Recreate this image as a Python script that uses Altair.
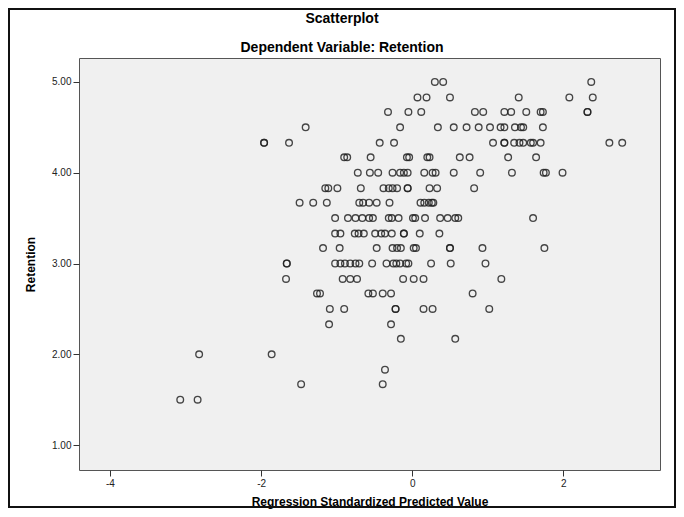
import altair as alt
import pandas as pd

# Retention levels (y) and the predicted values (x) read per row
r500 = [0.30, 0.41, 2.37]
r483 = [0.07, 0.19, 0.50, 1.41, 2.08, 2.39]
r467 = [-0.32, -0.05, 0.12, 0.83, 0.94, 1.22, 1.31, 1.51, 1.70, 1.73, 2.32, 2.32]
r450 = [-1.41, -0.16, 0.34, 0.55, 0.72, 0.88, 1.03, 1.17, 1.22, 1.36, 1.44, 1.47, 1.73]
r433 = [-1.96, -1.96, -1.63, -0.43, -0.24, 1.07, 1.22, 1.22, 1.35, 1.42, 1.47, 1.57, 1.60, 1.70, 2.61, 2.78]
r417 = [-0.90, -0.86, -0.55, -0.07, -0.04, 0.20, 0.23, 0.63, 0.76, 1.27, 1.64]
r400 = [-0.72, -0.56, -0.45, -0.26, -0.16, -0.11, -0.06, 0.16, 0.27, 0.31, 0.55, 0.90, 1.32, 1.74, 1.77, 1.99]
r383 = [-1.15, -1.11, -0.99, -0.68, -0.38, -0.31, -0.26, -0.20, -0.06, -0.06, 0.23, 0.33, 0.82]
r367 = [-1.49, -1.31, -1.13, -0.70, -0.65, -0.57, -0.47, -0.30, 0.11, 0.16, 0.22, 0.26, 0.28]
r350 = [-1.02, -0.85, -0.75, -0.66, -0.57, -0.52, -0.31, -0.27, -0.18, 0.01, 0.04, 0.17, 0.37, 0.47, 0.57, 0.61, 1.60]
r333 = [-1.02, -0.95, -0.76, -0.71, -0.64, -0.49, -0.41, -0.36, -0.27, -0.11, -0.11, 0.10, 0.36]
r317 = [-1.18, -0.96, -0.47, -0.26, -0.20, -0.15, 0.02, 0.05, 0.50, 0.50, 0.93, 1.75]
r300 = [-1.66, -1.66, -1.02, -0.95, -0.89, -0.82, -0.75, -0.70, -0.53, -0.34, -0.25, -0.21, -0.16, -0.08, -0.05, 0.25, 0.51, 0.97]
r283 = [-1.67, -0.92, -0.82, -0.73, -0.12, 0.02, 0.15, 1.18]
r267 = [-1.26, -1.22, -0.58, -0.52, -0.39, -0.28, 0.80]
r250 = [-1.09, -0.90, -0.22, -0.22, 0.15, 0.27, 1.02]
r233 = [-1.10, -0.28]
r217 = [-0.15, 0.57]
r200 = [-2.82, -1.86]
r183 = [-0.36]
r167 = [-1.47, -0.39]
r150 = [-3.07, -2.84]

levels = [5.00, 4.83, 4.67, 4.50, 4.33, 4.17, 4.00, 3.83, 3.67, 3.50, 3.33,
          3.17, 3.00, 2.83, 2.67, 2.50, 2.33, 2.17, 2.00, 1.83, 1.67, 1.50]
rows = [r500, r483, r467, r450, r433, r417, r400, r383, r367, r350, r333,
        r317, r300, r283, r267, r250, r233, r217, r200, r183, r167, r150]

x_ticks = [-4, -2, 0, 2]
y_ticks = [1, 2, 3, 4, 5]
title_text = "Scatterplot"
subtitle_text = "Dependent Variable: Retention"

recs = []
for lv, xs in zip(levels, rows):
    for v in xs:
        recs.append({"pred": v, "ret": lv})
df = pd.DataFrame(recs)

FONT = "Liberation Sans"

points = alt.Chart(df).mark_point(
    shape="circle", filled=False, size=44, strokeWidth=1.35,
    color="#202020", opacity=0.82
).encode(
    x=alt.X("pred:Q",
            scale=alt.Scale(domain=[-4.41, 3.28], nice=False, zero=False),
            axis=alt.Axis(values=x_ticks,
                          labelExpr="datum.value < 0 ? '-' + abs(datum.value) : '' + datum.value",
                          title="Regression Standardized Predicted Value",
                          titlePadding=8, labelPadding=2)),
    y=alt.Y("ret:Q",
            scale=alt.Scale(domain=[0.725, 5.264], nice=False, zero=False),
            axis=alt.Axis(values=y_ticks, format=".2f", title="Retention",
                          titlePadding=14, labelPadding=2)),
)

one = pd.DataFrame({"a": [0]})

frame = alt.Chart(one).mark_rect(
    fill="transparent", stroke="#111111", strokeWidth=2
).encode(
    x=alt.value(-70), x2=alt.value(596), y=alt.value(-49), y2=alt.value(449)
)

title_mark = alt.Chart(one).mark_text(
    text=title_text, font=FONT, fontSize=14, fontWeight="bold",
    color="#000000", align="center", baseline="middle"
).encode(x=alt.value(263), y=alt.value(-39))

subtitle_mark = alt.Chart(one).mark_text(
    text=subtitle_text, font=FONT, fontSize=14, fontWeight="bold",
    color="#000000", align="center", baseline="middle"
).encode(x=alt.value(263), y=alt.value(-10))

chart = alt.layer(points, frame, title_mark, subtitle_mark).properties(
    width=581, height=412,
    autosize=alt.AutoSizeParams(type="none"),
    padding={"left": 71, "top": 50, "right": 16, "bottom": 39},
).configure_view(
    fill="#F0F0F0", stroke="#555555", strokeWidth=1
).configure_axis(
    grid=False, domain=False, ticks=True, tickSize=6, tickColor="#333333",
    labelFont=FONT, labelFontSize=10, labelColor="#222222",
    titleFont=FONT, titleFontSize=12, titleFontWeight="bold", titleColor="#000000",
)

chart.save("out.html", embed_options={"renderer": "svg", "actions": False})
